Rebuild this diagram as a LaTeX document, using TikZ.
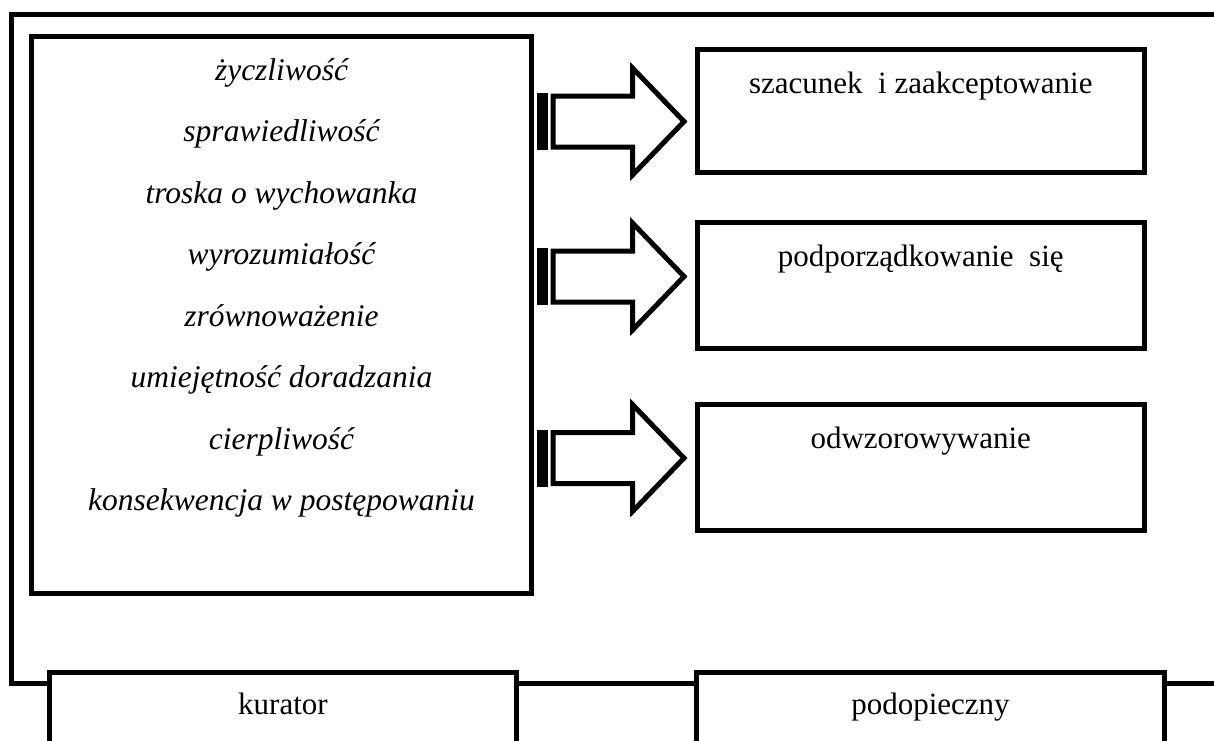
\documentclass[tikz,border=0pt]{standalone}
\usepackage{fontspec}
\setmainfont{Liberation Serif}
\tikzset{
  frameline/.style={line width=5pt, line join=miter},
  box/.style={draw, line width=5pt, fill=white, inner sep=0pt, outer sep=0pt},
  itext/.style={font=\fontsize{31.5}{37}\selectfont\itshape, inner sep=0pt, anchor=base},
  rtext/.style={font=\fontsize{31}{37}\selectfont, inner sep=0pt, anchor=base},
  arrowbody/.style={draw, line width=5pt, fill=white, line join=miter, miter limit=10},
  stripedarrow/.pic={
    \fill[black] (0,-28.5) rectangle (11,28.5);
    \draw[arrowbody] (16,-25.5) -- (95.5,-25.5) -- (95.5,-53.5) -- (147,0)
      -- (95.5,53.5) -- (95.5,25.5) -- (16,25.5) -- cycle;
  }
}
\begin{document}
\begin{tikzpicture}[x=1pt,y=-1pt]
\useasboundingbox (0,0) rectangle (1214,740);
\clip (0,0) rectangle (1214,740);
\fill[white] (0,0) rectangle (1214,740);
% outer frame
\coordinate (ftr) at (1230,14.5);
\coordinate (ftl) at (11.5,14.5);
\coordinate (fbl) at (11.5,683);
\coordinate (fbr) at (1230,683);
\draw[frameline] (ftr) -- (ftl) -- (fbl) -- (fbr);
% left box
\node[box, minimum width=500pt, minimum height=557pt] (cechy) at (281.5,315) {};
\node[itext] (t1) at (281.5,80) {życzliwość};
\node[itext] (t2) at (281.5,141.5) {sprawiedliwość};
\node[itext] (t3) at (281.5,203) {troska o wychowanka};
\node[itext] (t4) at (281.5,264.5) {wyrozumiałość};
\node[itext] (t5) at (281.5,326) {zrównoważenie};
\node[itext] (t6) at (281.5,387.5) {umiejętność doradzania};
\node[itext] (t7) at (281.5,449) {cierpliwość};
\node[itext] (t8) at (281.5,510.5) {konsekwencja w postępowaniu};
% right boxes
\node[box, minimum width=447.5pt, minimum height=123pt] (r1) at (920.75,111) {};
\node[box, minimum width=447.5pt, minimum height=126pt] (r2) at (920.75,285.5) {};
\node[box, minimum width=447.5pt, minimum height=126pt] (r3) at (920.75,467.5) {};
\node[rtext] (r1t) at (920.75,93) {szacunek\ \ i zaakceptowanie};
\node[rtext] (r2t) at (920.75,266) {podporządkowanie\ \ się};
\node[rtext] (r3t) at (920.75,448) {odwzorowywanie};
% striped block arrows
\coordinate (a1) at (537,121.5);
\coordinate (a2) at (537,276.5);
\coordinate (a3) at (537,458);
\pic at (a1) {stripedarrow};
\pic at (a2) {stripedarrow};
\pic at (a3) {stripedarrow};
% bottom boxes
\node[box, minimum width=467pt, minimum height=140pt, anchor=north] (kur) at (283,672.5) {};
\node[box, minimum width=468pt, minimum height=140pt, anchor=north] (pod) at (930.5,672.5) {};
\node[rtext] (kurt) at (283,714) {kurator};
\node[rtext] (podt) at (930.5,714) {podopieczny};
\end{tikzpicture}
\end{document}
